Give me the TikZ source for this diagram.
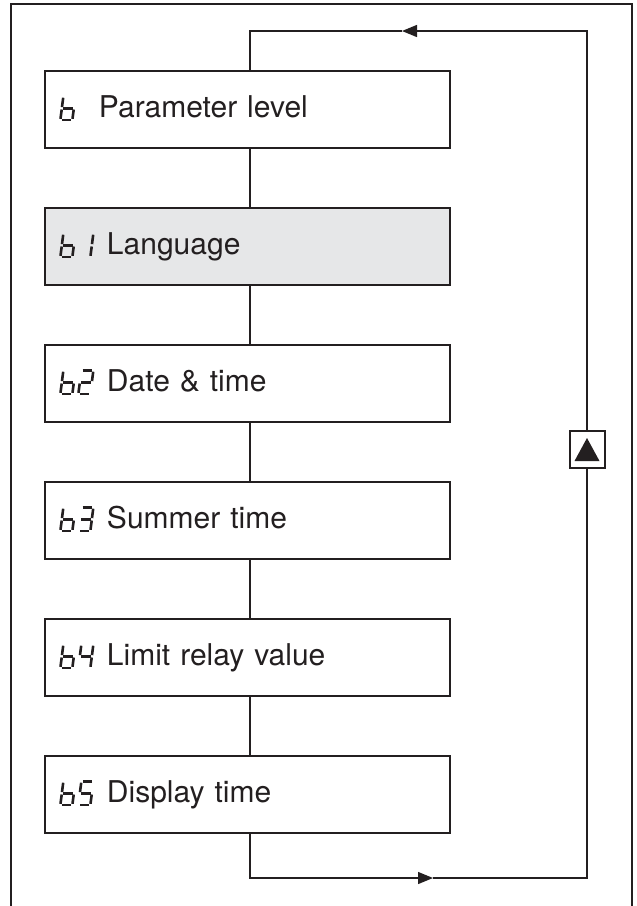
\documentclass[tikz,border=0pt]{standalone}
\usepackage{fontspec}
\setmainfont{TeX Gyre Heros}
\usetikzlibrary{positioning,arrows.meta,calc}
\definecolor{ink}{HTML}{231F20}
\definecolor{shade}{HTML}{E6E7E8}

% seven-segment digits as segment lists
\newcommand{\digb}{tl/ml,ml/bl,bl/br,br/mr,ml/mr}
\newcommand{\digone}{tr/mr,mr/br}
\newcommand{\digtwo}{tl/tr,tr/mr,mr/ml,ml/bl,bl/br}
\newcommand{\digthree}{tl/tr,tr/mr,mr/br,br/bl,ml/mr}
\newcommand{\digfour}{tl/ml,ml/mr,tr/mr,mr/br}
\newcommand{\digfive}{tr/tl,tl/ml,ml/mr,mr/br,br/bl}

\tikzset{
  segline/.style={ink,line width=2.6pt,shorten <=1.2pt,shorten >=1.2pt},
  seg/.pic={
    \coordinate (bl) at (0,0);
    \coordinate (br) at (12,0);
    \coordinate (ml) at (1.5,-11.7);
    \coordinate (mr) at (13.5,-11.7);
    \coordinate (tl) at (3,-23.5);
    \coordinate (tr) at (15,-23.5);
    \foreach \p/\q in #1 {\draw[segline] (\p) -- (\q);}
  }
}

\begin{document}
\begin{tikzpicture}[
      x=1pt,y=-1pt,
      box/.style={draw=ink,line width=1.3pt,minimum width=405pt,minimum height=77pt,
        inner sep=0pt,text width=405pt,align=left,text height=21.6pt,text depth=5.6pt,
        font=\fontsize{30}{34}\selectfont,text=ink},
      keybox/.style={draw=ink,line width=2pt,minimum width=35pt,minimum height=37pt,inner sep=0pt},
      flow/.style={draw=ink,line width=1.3pt},
      tip/.style={-{Triangle[length=15pt,width=12pt]}}]

    \useasboundingbox (0,0) rectangle (637,906);
    \draw[ink,line width=2pt] (11,4) rectangle (632,930);

    \node[box]            (lvl)    at (247.5,109.5) {\hspace*{54pt}Parameter level};
    \node[box,fill=shade] (lang)   at (247.5,246.5) {\hspace*{62pt}Language};
    \node[box]            (date)   at (247.5,383.5) {\hspace*{62pt}Date \& time};
    \node[box]            (summer) at (247.5,520.5) {\hspace*{62pt}Summer time};
    \node[box]            (limit)  at (247.5,657.5) {\hspace*{62pt}Limit relay value};
    \node[box]            (disp)   at (247.5,794.5) {\hspace*{62pt}Display time};

    % digit codes
    \pic at ($(lvl.west)+(16,10.5)$) {seg=\digb};
    \pic at ($(lang.west)+(16,10.5)$) {seg=\digb};
    \pic at ($(lang.west)+(34,10.5)$) {seg=\digone};
    \pic at ($(date.west)+(16,10.5)$) {seg=\digb};
    \pic at ($(date.west)+(34,10.5)$) {seg=\digtwo};
    \pic at ($(summer.west)+(16,10.5)$) {seg=\digb};
    \pic at ($(summer.west)+(34,10.5)$) {seg=\digthree};
    \pic at ($(limit.west)+(16,10.5)$) {seg=\digb};
    \pic at ($(limit.west)+(34,10.5)$) {seg=\digfour};
    \pic at ($(disp.west)+(16,10.5)$) {seg=\digb};
    \pic at ($(disp.west)+(34,10.5)$) {seg=\digfive};

    \foreach \a/\b in {lvl/lang,lang/date,date/summer,summer/limit,limit/disp}
      \draw[flow] ([xshift=2.5pt]\a.south) -- ([xshift=2.5pt]\b.north);

    % loop back with the up key
    \node[keybox] (key) at (587,449.5) {};
    \fill[ink] ([shift={(-12.5,11.5)}]key.center) -- ([shift={(12.5,11.5)}]key.center)
      -- ([shift={(0,-11.5)}]key.center) -- cycle;

    \coordinate (botarr) at (433,878);
    \coordinate (br)     at (587,878);
    \coordinate (tr)     at (587,31);
    \coordinate (toparr) at (402,31);

    \draw[flow,tip] ([xshift=2.5pt]disp.south) |- (botarr);
    \draw[flow] (botarr) -- (br) -- (key.south);
    \draw[flow,tip] (key.north) -- (tr) -- (toparr);
    \draw[flow] (toparr) -| ([xshift=2.5pt]lvl.north);
  \end{tikzpicture}
\end{document}
